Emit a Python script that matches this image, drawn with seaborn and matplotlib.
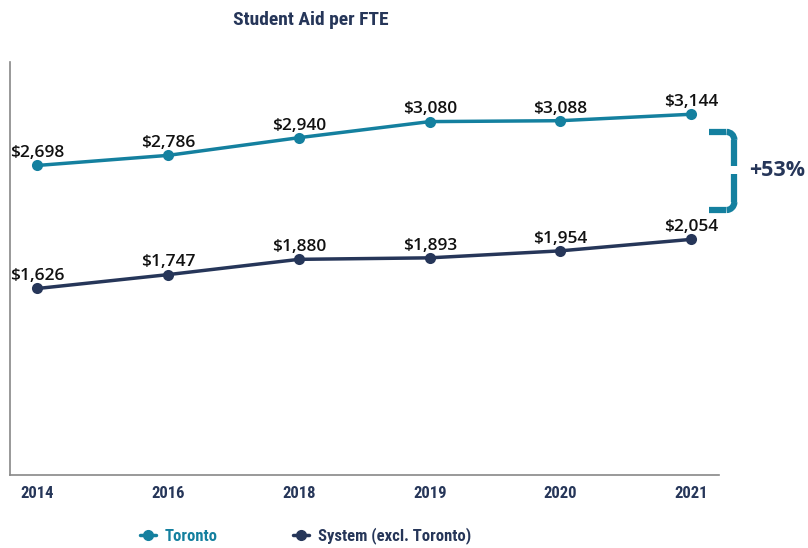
import pandas as pd
import matplotlib.pyplot as plt
import seaborn as sns
from matplotlib.patches import Arc

# Datos
anios = ['2014', '2016', '2018', '2019', '2020', '2021']
toronto = [2698, 2786, 2940, 3080, 3088, 3144]
sistema = [1626, 1747, 1880, 1893, 1954, 2054]
series = ['Toronto', 'System (excl. Toronto)']
colores = {'Toronto': '#14809f', 'System (excl. Toronto)': '#263659'}
diferencia = '+53%'

df = pd.DataFrame({
    'anio': anios * 2,
    'valor': toronto + sistema,
    'serie': [series[0]] * len(anios) + [series[1]] * len(anios),
})

sns.set_style('white')
navy = '#263659'
estrecha = ['Roboto Condensed', 'DejaVu Sans']
normal = ['Open Sans', 'DejaVu Sans']

fig = plt.figure(figsize=(8.08, 5.48), dpi=100)
ax = fig.add_axes([0.0124, 0.133, 0.877, 0.754])

sns.lineplot(data=df, x='anio', y='valor', hue='serie', palette=colores,
             marker='o', markersize=8, markeredgewidth=0, linewidth=2.5,
             ax=ax, legend=False)

# Etiquetas de valores
for serie, valores in zip(series, [toronto, sistema]):
    for i, v in enumerate(valores):
        ax.annotate(f'${v:,}', (i, v), xytext=(0, 3), textcoords='offset points',
                    ha='center', va='bottom', fontsize=12.5, color='#111111',
                    family=normal, fontweight='semibold')

ax.set_xlim(-0.21, 5.21)
ax.set_ylim(0, 3600)
ax.set_yticks([])
ax.set_xlabel('')
ax.set_ylabel('')
ax.tick_params(axis='x', length=0, pad=8)
for lbl in ax.get_xticklabels():
    lbl.set_family(estrecha)
    lbl.set_fontweight('bold')
    lbl.set_fontsize(12)
    lbl.set_color(navy)

for lado in ['top', 'right']:
    ax.spines[lado].set_visible(False)
for lado in ['left', 'bottom']:
    ax.spines[lado].set_color('#888888')
    ax.spines[lado].set_linewidth(1.2)

# Corchete con la diferencia
kw = dict(color=colores['Toronto'], linewidth=4.5, solid_capstyle='butt', clip_on=False)
ax.plot([5.14, 5.27], [2990, 2990], **kw)
ax.plot([5.14, 5.27], [2310, 2310], **kw)
ax.plot([5.33, 5.33], [2920, 2690], **kw)
ax.plot([5.33, 5.33], [2620, 2380], **kw)
for yc, t1, t2 in [(2920, 0, 90), (2380, 270, 360)]:
    ax.add_patch(Arc((5.27, yc), 0.12, 140, theta1=t1, theta2=t2,
                     color=colores['Toronto'], linewidth=4.5, clip_on=False))
ax.text(5.655, 2650, diferencia, ha='center', va='center', fontsize=15.5,
        fontweight='bold', color=navy, family=normal)

fig.text(0.385, 0.964, 'Student Aid per FTE', ha='center', va='center',
         fontsize=14, fontweight='bold', color=navy, family=estrecha)

# Leyenda
manijas = [plt.Line2D([], [], color=colores[s], marker='o', markersize=7,
                      linewidth=2.5) for s in series]
leg = fig.legend(manijas, series, loc='center', bbox_to_anchor=(0.378, 0.022),
                 ncol=2, frameon=False, handlelength=1.0, handletextpad=0.5,
                 columnspacing=4.5,
                 prop={'family': estrecha, 'weight': 'bold', 'size': 12})
for txt, s in zip(leg.get_texts(), series):
    txt.set_color(colores[s])

fig.savefig('out.png', dpi=100)
